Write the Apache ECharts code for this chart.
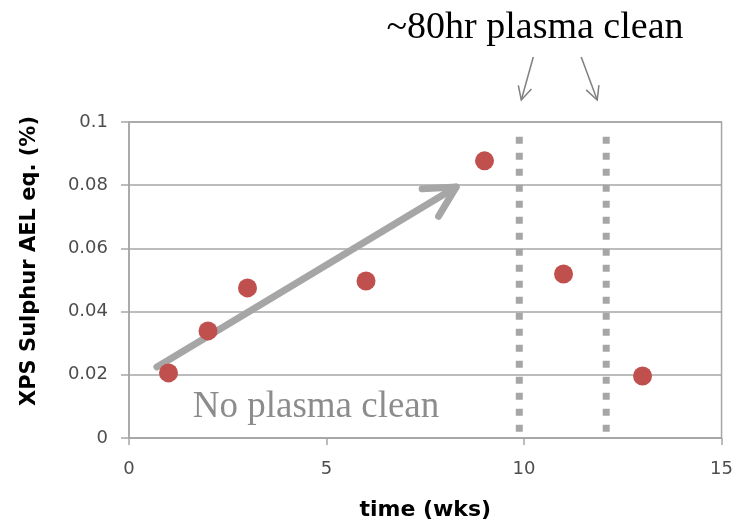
<!DOCTYPE html>
<html>
<head>
<meta charset="utf-8">
<script src="https://cdn.jsdelivr.net/npm/echarts@6/dist/echarts.min.js"></script>
<style>
  html, body { margin: 0; padding: 0; background: #fff; }
  #chart { width: 736px; height: 526px; }
</style>
</head>
<body>
<div id="chart"></div>
<script>
// Sulphur level measured by XPS over time
const weeks = [1, 2, 3, 6, 9, 11, 13];
const sulphur = [0.0206, 0.0339, 0.0475, 0.0497, 0.0877, 0.0519, 0.0196];

// Weeks at which the ~80hr plasma cleans took place
const cleanWeeks = [9.88, 12.08];
const cleanSpan = [0.0953, 0.0019];

// Trend arrow (start and tip) for the period without cleaning
const trendStart = [0.707, 0.0225];
const trendEnd = [8.28, 0.0794];

const xTicks = { min: 0, max: 15, interval: 5 };
const yTicks = { min: 0, max: 0.1, interval: 0.02 };

const axisGray = '#a6a6a6';
const labelColor = '#4d4d4d';

const chart = echarts.init(document.getElementById('chart'));

const cleanSeries = cleanWeeks.map(w => ({
  type: 'line',
  data: [[w, cleanSpan[0]], [w, cleanSpan[1]]],
  symbol: 'none',
  silent: true,
  lineStyle: { color: '#a6a6a6', width: 7, type: [7, 9], cap: 'butt' },
  z: 3
}));

chart.setOption({
  animation: false,
  grid: {
    left: 129, right: 13, top: 122, bottom: 88,
    show: true, borderColor: axisGray, borderWidth: 1.5
  },
  xAxis: {
    type: 'value',
    min: xTicks.min, max: xTicks.max, interval: xTicks.interval,
    name: 'time (wks)',
    nameLocation: 'middle',
    nameGap: 61,
    nameTextStyle: { fontFamily: 'DejaVu Sans', fontWeight: 'bold', fontSize: 22, color: '#000' },
    axisLine: { show: true, lineStyle: { color: axisGray, width: 1.5 } },
    axisTick: { show: true, inside: false, length: 7, lineStyle: { color: axisGray, width: 1.5 } },
    splitLine: { show: false },
    axisLabel: { fontFamily: 'DejaVu Sans', fontSize: 18, color: labelColor, margin: 22 }
  },
  yAxis: {
    type: 'value',
    min: yTicks.min, max: yTicks.max, interval: yTicks.interval,
    axisLine: { show: true, lineStyle: { color: axisGray, width: 1.5 } },
    axisTick: { show: true, inside: false, length: 8, lineStyle: { color: axisGray, width: 1.5 } },
    splitLine: { show: true, lineStyle: { color: axisGray, width: 1.5 } },
    axisLabel: {
      fontFamily: 'DejaVu Sans', fontSize: 18, color: labelColor, margin: 21,
      formatter: v => String(+v.toFixed(2))
    }
  },
  series: [
    ...cleanSeries,
    {
      type: 'custom',
      silent: true,
      z: 4,
      data: [[trendStart[0], trendStart[1], trendEnd[0], trendEnd[1]]],
      renderItem: function (params, api) {
        const p0 = api.coord([api.value(0), api.value(1)]);
        const p1 = api.coord([api.value(2), api.value(3)]);
        const ang = Math.atan2(p0[1] - p1[1], p0[0] - p1[0]);
        const len = 34, spread = 28 * Math.PI / 180;
        const w1 = [p1[0] + len * Math.cos(ang + spread), p1[1] + len * Math.sin(ang + spread)];
        const w2 = [p1[0] + len * Math.cos(ang - spread), p1[1] + len * Math.sin(ang - spread)];
        const style = { stroke: '#a6a6a6', lineWidth: 7, lineCap: 'round', lineJoin: 'round', fill: null };
        return {
          type: 'group',
          children: [
            { type: 'polyline', shape: { points: [p0, p1] }, style: style },
            { type: 'polyline', shape: { points: [w1, p1, w2] }, style: style }
          ]
        };
      }
    },
    {
      type: 'scatter',
      data: weeks.map((w, i) => [w, sulphur[i]]),
      symbol: 'circle',
      symbolSize: 19,
      itemStyle: { color: '#c0504d', opacity: 1 },
      z: 5
    }
  ]
});

// Annotations: heading, small pointer arrows and the axis title
function pointer(from, to) {
  const ang = Math.atan2(from[1] - to[1], from[0] - to[0]);
  const len = 15, spread = 27 * Math.PI / 180;
  const w1 = [to[0] + len * Math.cos(ang + spread), to[1] + len * Math.sin(ang + spread)];
  const w2 = [to[0] + len * Math.cos(ang - spread), to[1] + len * Math.sin(ang - spread)];
  const style = { stroke: '#7f7f7f', lineWidth: 1.5, fill: null };
  return [
    { type: 'polyline', shape: { points: [from, to] }, style: style },
    { type: 'polyline', shape: { points: [w1, to, w2] }, style: style }
  ];
}

const lineTop = chart.convertToPixel({ gridIndex: 0 }, [cleanWeeks[0], 0.1]);
const lineTop2 = chart.convertToPixel({ gridIndex: 0 }, [cleanWeeks[1], 0.1]);

chart.setOption({
  graphic: [
    {
      type: 'text', x: 535, y: 9,
      style: {
        text: '~80hr plasma clean', font: '38px "Liberation Serif"',
        fill: '#000', align: 'center', verticalAlign: 'top'
      }
    },
    ...pointer([lineTop[0] + 14, 57], [lineTop[0] + 2, 100]),
    ...pointer([lineTop2[0] - 25, 57], [lineTop2[0] - 9, 100]),
    {
      type: 'text', x: 316, y: 389,
      style: {
        text: 'No plasma clean', font: '37px "Liberation Serif"',
        fill: '#8c8c8c', align: 'center', verticalAlign: 'top'
      }
    },
    {
      type: 'text', x: 30, y: 261, rotation: Math.PI / 2,
      style: {
        text: 'XPS Sulphur AEL eq. (%)', font: 'bold 21px "DejaVu Sans"',
        fill: '#000', align: 'center', verticalAlign: 'middle'
      }
    }
  ]
});
</script>
</body>
</html>
